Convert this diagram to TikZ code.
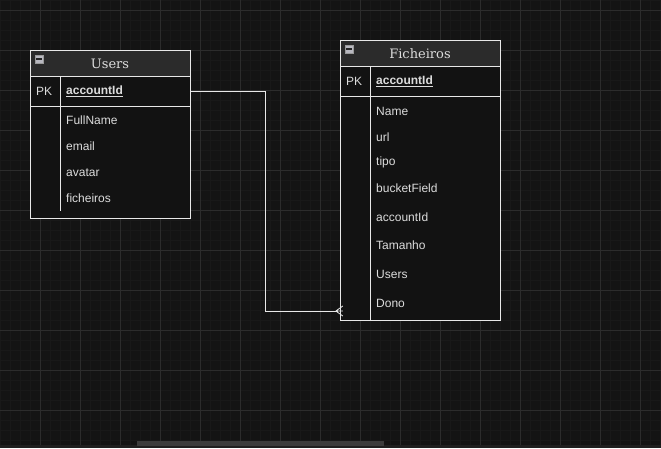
\documentclass[tikz,border=0pt]{standalone}
\usepackage{fontspec}
\setmainfont{Liberation Sans}
\newfontfamily\titlefont{DejaVu Serif}
\usetikzlibrary{calc}
\definecolor{bgc}{HTML}{141414}
\definecolor{minorc}{HTML}{191919}
\definecolor{majorc}{HTML}{2C2C2C}
\definecolor{headc}{HTML}{2B2B2B}
\definecolor{bodyc}{HTML}{121212}
\definecolor{linec}{HTML}{E8E8E8}
\definecolor{txtc}{HTML}{DCDCDC}
\definecolor{stripc}{HTML}{202020}
\definecolor{scrollc}{HTML}{3C3C3C}
\definecolor{minic}{HTML}{B8B8C0}
\tikzset{
  tbox/.style={draw=linec, line width=1pt, fill=bodyc, minimum width=160pt, inner sep=0pt, anchor=north west},
  hbox/.style={draw=linec, line width=1pt, fill=headc, minimum width=160pt, minimum height=26pt, inner sep=0pt, anchor=north west},
  ttl/.style={font=\titlefont\fontsize{13}{13}\selectfont, text=txtc, inner sep=0pt},
  fld/.style={font=\fontsize{12}{12}\selectfont, text=txtc, anchor=west, inner sep=0pt},
  pkf/.style={font=\bfseries\fontsize{12}{12}\selectfont, text=txtc, anchor=west, inner sep=0pt},
  sep/.style={draw=linec, line width=1pt},
  conn/.style={draw=linec, line width=1pt},
  mini/.style={draw=gray!80, fill=minic, minimum width=8pt, minimum height=8pt, inner sep=0pt},
  rowc/.style={minimum width=160pt, inner sep=0pt},
}
\begin{document}
\begin{tikzpicture}[x=1pt,y=-1pt]
\useasboundingbox (0,0) rectangle (661,448);
\fill[bgc] (0,0) rectangle (661,448);
% grid
\foreach \i in {0,10,...,660} \draw[minorc, line width=1pt] (\i,0) -- (\i,448);
\foreach \j in {0,10,...,440} \draw[minorc, line width=1pt] (0,\j) -- (661,\j);
\foreach \i in {40,80,...,640} \draw[majorc, line width=1pt] (\i,0) -- (\i,448);
\foreach \j in {10,50,...,410} \draw[majorc, line width=1pt] (0,\j) -- (661,\j);
% bottom strip and scrollbar
\fill[stripc] (0,445) rectangle (661,448);
\fill[scrollc] (137,441) rectangle (384,446);

% Users table
\node[tbox, minimum height=168pt] (users) at (30,50) {};
\node[hbox] (uhead) at (30,50) {};
\node[ttl] (utitle) at (110,63.5) {Users};
\node[mini] (umin) at (39,59) {};
\draw[black!85, line width=1.2pt] ($(umin.west)+(1.5,0)$) -- ($(umin.east)+(-1.5,0)$);
\node[rowc, minimum height=29pt] (upk) at (110,91.5) {};
\draw[sep] (30,106) -- (190,106);
\draw[sep] (60,77) -- (60,211);
\node[fld] (upklbl) at (36,91.5) {PK};
\node[pkf] (upkname) at (66,91.5) {\underline{accountId}};
\node[fld] (u1) at (66,120.5) {FullName};
\node[fld] (u2) at (66,146.5) {email};
\node[fld] (u3) at (66,172.5) {avatar};
\node[fld] (u4) at (66,198.5) {ficheiros};

% Ficheiros table
\node[tbox, minimum height=280pt] (fich) at (340,40) {};
\node[hbox] (fhead) at (340,40) {};
\node[ttl] (ftitle) at (420,53.5) {Ficheiros};
\node[mini] (fmin) at (349,49) {};
\draw[black!85, line width=1.2pt] ($(fmin.west)+(1.5,0)$) -- ($(fmin.east)+(-1.5,0)$);
\draw[sep] (340,96) -- (500,96);
\draw[sep] (370,66) -- (370,320);
\node[fld] (fpklbl) at (346,81.5) {PK};
\node[pkf] (fpkname) at (376,81.5) {\underline{accountId}};
\node[fld] (f1) at (376,111) {Name};
\node[fld] (f2) at (376,137) {url};
\node[fld] (f3) at (376,162.5) {tipo};
\node[fld] (f4) at (376,188.5) {bucketField};
\node[fld] (f5) at (376,217.5) {accountId};
\node[fld] (f6) at (376,245.5) {Tamanho};
\node[fld] (f7) at (376,274.5) {Users};
\node[fld] (f8) at (376,303.5) {Dono};
\node[rowc, minimum height=18pt] (fdono) at (420,311) {};

% connector
\coordinate (bend) at (265,311);
\draw[conn] (upk.east) -| (bend) -- ($(fdono.west)+(-2,0)$);
\draw[conn, line width=0.8pt] ($(fdono.west)+(-4,0)$) -- ($(fdono.west)+(3,-5)$)
  ($(fdono.west)+(-4,0)$) -- ($(fdono.west)+(3,0)$)
  ($(fdono.west)+(-4,0)$) -- ($(fdono.west)+(3,5)$);
\end{tikzpicture}
\end{document}
